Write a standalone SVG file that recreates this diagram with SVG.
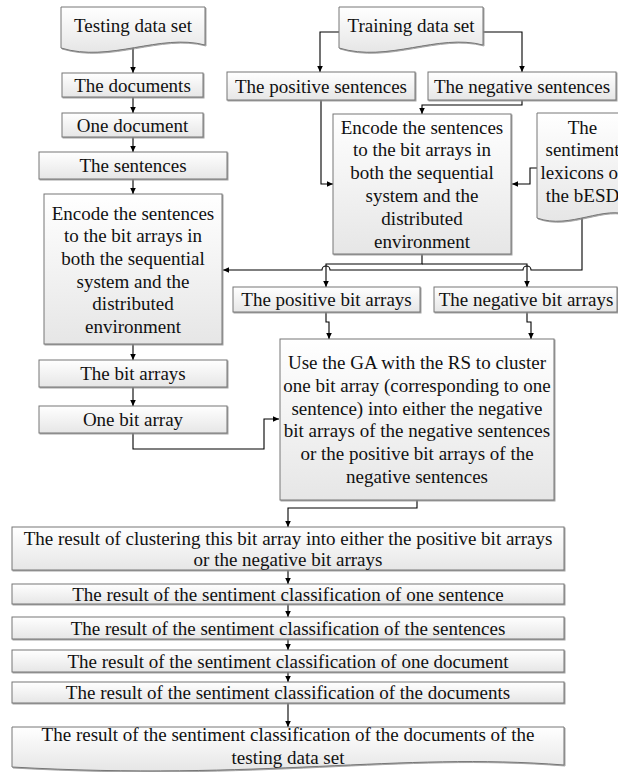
<svg xmlns="http://www.w3.org/2000/svg" width="618" height="772" viewBox="0 0 618 772">
  <defs>
    <linearGradient id="boxFill" x1="0" y1="0" x2="0" y2="1">
      <stop offset="0" stop-color="#ffffff"/>
      <stop offset="1" stop-color="#e6e6e6"/>
    </linearGradient>
    <filter id="shadow" x="-5%" y="-5%" width="110%" height="120%">
      <feDropShadow dx="1" dy="1" stdDeviation="0.7" flood-color="#8c8c8c" flood-opacity="0.8"/>
    </filter>
    <marker id="arrow" markerWidth="6" markerHeight="6" refX="6" refY="2.8" orient="auto" markerUnits="userSpaceOnUse">
      <path d="M0,0 L6,2.8 L0,5.6 z" fill="#000"/>
    </marker>
  </defs>
  <style>
    .box { fill: url(#boxFill); stroke: #767676; stroke-width: 1; filter: url(#shadow); }
    .lbl { font-family: "Liberation Serif", "Times New Roman", serif; font-size: 19px; fill: #111; text-anchor: middle; }
    .wire { fill: none; stroke: #000; stroke-width: 1.1; }
    .arr { marker-end: url(#arrow); }
  </style>

  <!-- connectors -->
  <g id="connectors">
    <!-- testing branch -->
    <path class="wire arr" d="M133,48 V73"/>
    <path class="wire arr" d="M133,97 V113"/>
    <path class="wire arr" d="M133,137 V152"/>
    <path class="wire arr" d="M133,179 V194"/>
    <path class="wire arr" d="M133,344 V360"/>
    <path class="wire arr" d="M133,387 V406"/>
    <path class="wire arr" d="M133,433 V449 H264 V419 H279"/>
    <!-- training branch -->
    <path class="wire arr" d="M339,32 H320 V72"/>
    <path class="wire arr" d="M483,32 H522 V72"/>
    <path class="wire arr" d="M321,100 V184 H333"/>
    <path class="wire arr" d="M522,100 V105 H422 V114"/>
    <path class="wire arr" d="M537,168 H530 V184 H512"/>
    <path class="wire arr" d="M422,254 V264 H326 V287"/>
    <path class="wire arr" d="M422,264 H527 V287"/>
    <!-- lexicons to the testing encoder, hopping over the two drops -->
    <path class="wire arr" d="M582,217 V270 H531 a4,4 0 0 0 -8,0 H330 a4,4 0 0 0 -8,0 H223"/>
    <path class="wire arr" d="M326,312 V322 H329 V339"/>
    <path class="wire arr" d="M527,312 V322 H531 V339"/>
    <!-- results chain -->
    <path class="wire arr" d="M417,500 V508 H288 V527"/>
    <path class="wire arr" d="M288,570 V584"/>
    <path class="wire arr" d="M288,604 V617"/>
    <path class="wire arr" d="M288,639 V650"/>
    <path class="wire arr" d="M288,672 V682"/>
    <path class="wire arr" d="M288,703 V727"/>
  </g>

  <!-- testing column -->
  <g id="testing-data-set">
    <path class="box" d="M61,7 H205 V45 C160,33 110,63 61,48 Z"/>
    <text class="lbl" x="133" y="31.5">Testing data set</text>
  </g>
  <g id="the-documents">
    <rect class="box" x="62" y="73" width="141" height="24"/>
    <text class="lbl" x="132.5" y="91.5">The documents</text>
  </g>
  <g id="one-document">
    <rect class="box" x="62" y="113" width="141" height="24"/>
    <text class="lbl" x="132.5" y="131.5">One document</text>
  </g>
  <g id="the-sentences">
    <rect class="box" x="39" y="152" width="188" height="27"/>
    <text class="lbl" x="133" y="172">The sentences</text>
  </g>
  <g id="encode-testing">
    <rect class="box" x="44" y="194" width="178" height="150"/>
    <text class="lbl" x="133" y="219.5">Encode the sentences</text>
    <text class="lbl" x="133" y="242.2">to the bit arrays in</text>
    <text class="lbl" x="133" y="264.9">both the sequential</text>
    <text class="lbl" x="133" y="287.6">system and the</text>
    <text class="lbl" x="133" y="310.3">distributed</text>
    <text class="lbl" x="133" y="333">environment</text>
  </g>
  <g id="the-bit-arrays">
    <rect class="box" x="39" y="360" width="188" height="27"/>
    <text class="lbl" x="133" y="380">The bit arrays</text>
  </g>
  <g id="one-bit-array">
    <rect class="box" x="39" y="406" width="188" height="27"/>
    <text class="lbl" x="133" y="426">One bit array</text>
  </g>

  <!-- training column -->
  <g id="training-data-set">
    <path class="box" d="M339,7 H483 V45 C438,33 388,63 339,48 Z"/>
    <text class="lbl" x="411" y="31.5">Training data set</text>
  </g>
  <g id="positive-sentences">
    <rect class="box" x="227" y="72" width="188" height="28"/>
    <text class="lbl" x="321" y="92.5">The positive sentences</text>
  </g>
  <g id="negative-sentences">
    <rect class="box" x="428" y="72" width="188" height="28"/>
    <text class="lbl" x="522" y="92.5">The negative sentences</text>
  </g>
  <g id="encode-training">
    <rect class="box" x="333" y="114" width="178" height="140"/>
    <text class="lbl" x="422" y="133.5">Encode the sentences</text>
    <text class="lbl" x="422" y="156.3">to the bit arrays in</text>
    <text class="lbl" x="422" y="179.1">both the sequential</text>
    <text class="lbl" x="422" y="201.9">system and the</text>
    <text class="lbl" x="422" y="224.7">distributed</text>
    <text class="lbl" x="422" y="247.5">environment</text>
  </g>
  <g id="sentiment-lexicons">
    <path class="box" d="M537,113 H630 V216 C605,204 570,230 537,218 Z"/>
    <text class="lbl" x="582.5" y="133.5">The</text>
    <text class="lbl" x="582.5" y="156.3">sentiment</text>
    <text class="lbl" x="540.5" y="179.1" style="text-anchor:start">lexicons o</text>
    <text class="lbl" x="582.5" y="201.9">the bESD</text>
  </g>
  <g id="positive-bit-arrays">
    <rect class="box" x="233" y="287" width="187" height="25"/>
    <text class="lbl" x="326.5" y="306">The positive bit arrays</text>
  </g>
  <g id="negative-bit-arrays">
    <rect class="box" x="434" y="287" width="183" height="25"/>
    <text class="lbl" x="526" y="306">The negative bit arrays</text>
  </g>
  <g id="ga-clustering">
    <rect class="box" x="280" y="339" width="274" height="161"/>
    <text class="lbl" x="417" y="369">Use the GA with the RS to cluster</text>
    <text class="lbl" x="417" y="391.8">one bit array (corresponding to one</text>
    <text class="lbl" x="417" y="414.6">sentence) into either the negative</text>
    <text class="lbl" x="417" y="437.4">bit arrays of the negative sentences</text>
    <text class="lbl" x="417" y="460.2">or the positive bit arrays of the</text>
    <text class="lbl" x="417" y="483">negative sentences</text>
  </g>

  <!-- results -->
  <g id="clustering-result">
    <rect class="box" x="12" y="527" width="552" height="43"/>
    <text class="lbl" x="288" y="544.5">The result of clustering this bit array into either the positive bit arrays</text>
    <text class="lbl" x="288" y="565.5">or the negative bit arrays</text>
  </g>
  <g id="result-one-sentence">
    <rect class="box" x="12" y="584" width="552" height="20"/>
    <text class="lbl" x="288" y="600.5">The result of the sentiment classification of one sentence</text>
  </g>
  <g id="result-sentences">
    <rect class="box" x="12" y="617" width="552" height="22"/>
    <text class="lbl" x="288" y="634.5">The result of the sentiment classification of the sentences</text>
  </g>
  <g id="result-one-document">
    <rect class="box" x="12" y="650" width="552" height="22"/>
    <text class="lbl" x="288" y="667.5">The result of the sentiment classification of one document</text>
  </g>
  <g id="result-documents">
    <rect class="box" x="12" y="682" width="552" height="21"/>
    <text class="lbl" x="288" y="699">The result of the sentiment classification of the documents</text>
  </g>
  <g id="result-testing-set">
    <path class="box" d="M12,727 H564 V765 C398,752 260,781 12,767 Z"/>
    <text class="lbl" x="288" y="740.5">The result of the sentiment classification of the documents of the</text>
    <text class="lbl" x="288" y="763.5">testing data set</text>
  </g>
</svg>
